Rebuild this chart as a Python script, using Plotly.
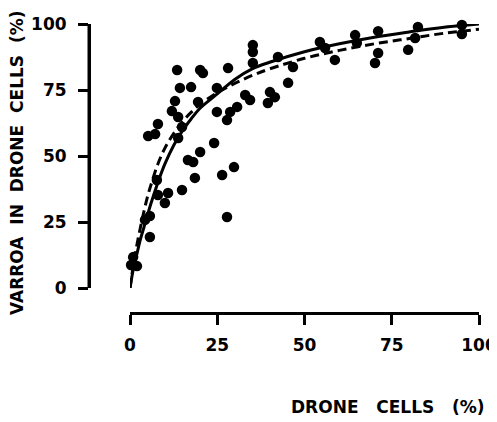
import plotly.graph_objects as go

# Observed data points (drone cells %, varroa in drone cells %)
drone_cells = [0.3, 2.0, 0.9, 5.7, 4.3, 5.7, 8.0, 10.9, 10.0, 14.9, 7.7, 18.6, 16.6, 18.1,
               20.1, 24.1, 26.4, 29.8, 27.8, 5.2, 7.2, 8.0, 12.0, 13.8, 14.9, 13.8, 12.9,
               13.5, 20.1, 20.9, 28.1, 14.3, 17.5, 24.9, 19.5, 24.9, 30.7, 28.7, 27.8,
               33.0, 34.4, 35.2, 35.2, 35.2, 42.4, 46.7, 45.3, 40.1, 41.5, 39.5, 54.4,
               55.9, 58.7, 64.5, 65.0, 71.1, 71.1, 70.2, 82.5, 81.7, 79.7, 95.1, 95.1]
varroa = [8.7, 8.3, 11.7, 19.3, 25.8, 27.3, 35.2, 36.0, 32.2, 37.1, 40.9, 41.7, 48.5, 47.7,
          51.5, 54.9, 42.8, 45.8, 26.9, 57.6, 58.3, 62.1, 67.0, 64.8, 61.0, 56.8, 70.8,
          82.6, 82.6, 81.4, 83.3, 75.8, 76.1, 75.8, 70.5, 66.7, 68.6, 66.7, 63.6,
          73.1, 71.2, 92.0, 89.4, 85.2, 87.5, 83.7, 77.7, 74.2, 72.3, 70.1, 93.2,
          90.9, 86.4, 95.8, 92.8, 97.3, 89.0, 85.2, 98.9, 94.7, 90.2, 99.6, 96.2]

# Fitted curves
curve_x = [0, 1, 2, 3, 4, 5, 6, 8, 10, 12.5, 15, 17.5, 20, 25, 30, 35, 40, 50, 60, 70, 80, 90, 100]
solid_y = [0, 7.5, 13, 18.5, 23, 27.5, 32, 40, 47, 54, 59.5, 64, 68, 73.5, 79, 83, 85.5, 89.5,
           92.5, 95, 97, 98.8, 100]
dashed_y = [0, 9, 16.5, 23, 29, 34.5, 39, 47, 53, 58.5, 63, 66.5, 69.5, 74, 77.5, 80.5, 83, 87,
            90, 92.5, 94.5, 96.5, 98]

tick_vals = [0, 25, 50, 75, 100]
tick_text = ["0", "25", "50", "75", "100"]

# The page has an 8px body margin; the figure is sized to fit the 497x422 window.
OFF = 8
W, H = 497 - OFF, 422 - OFF
ML, MR, MT, MB = 89 - OFF, 497 - 479, 24 - OFF, 422 - 313
pw = W - ML - MR
ph = H - MT - MB

def px_x(p):
    return (p - 89) / pw

def px_y(p):
    return (313 - p) / ph

fig = go.Figure()
fig.add_trace(go.Scatter(x=curve_x, y=dashed_y, mode="lines",
                         line=dict(color="black", width=3, dash="9px,5px", shape="spline"),
                         cliponaxis=False, hoverinfo="skip"))
fig.add_trace(go.Scatter(x=curve_x, y=solid_y, mode="lines",
                         line=dict(color="black", width=3, shape="spline"),
                         cliponaxis=False, hoverinfo="skip"))
fig.add_trace(go.Scatter(x=drone_cells, y=varroa, mode="markers",
                         marker=dict(color="black", size=10.5, line=dict(width=0)), cliponaxis=False))

font = dict(family="DejaVu Sans", size=17, color="black", weight="bold")
axis_common = dict(range=[0, 100], showgrid=False, zeroline=False, showline=True, linewidth=3,
                   linecolor="black", ticks="outside", ticklen=10, tickwidth=2.5, tickcolor="black",
                   tickvals=tick_vals, ticktext=tick_text, tickfont=font, automargin=False,
                   anchor="free", position=0)

y_dom = [px_y(288), 1]

fig.update_layout(
    width=W, height=H, showlegend=False,
    paper_bgcolor="white", plot_bgcolor="white",
    margin=dict(l=ML, r=MR, t=MT, b=MB),
    xaxis=dict(domain=[px_x(130), 1], ticklabelstandoff=6, **axis_common),
    yaxis=dict(domain=y_dom, ticklabelstandoff=8, **axis_common),
    shapes=[
        # detached y-axis line along the left edge of the plotting paper, over the y-axis domain
        dict(type="line", xref="paper", yref="paper", x0=0, x1=0, y0=y_dom[0], y1=y_dom[1],
             line=dict(color="black", width=3), layer="above"),
    ],
    annotations=[
        dict(text="DRONE\u00a0\u00a0\u00a0CELLS\u00a0\u00a0\u00a0(%)", xref="paper", yref="paper",
             x=px_x(487), y=px_y(407), xanchor="right", yanchor="middle",
             showarrow=False, font=font),
        dict(text="VARROA\u00a0\u00a0IN\u00a0\u00a0DRONE\u00a0\u00a0CELLS\u00a0\u00a0(%)", xref="paper", yref="paper",
             x=px_x(17), y=px_y(163), xanchor="center", yanchor="middle",
             textangle=-90, showarrow=False, font=font),
    ],
)

fig.write_html("out.html")
